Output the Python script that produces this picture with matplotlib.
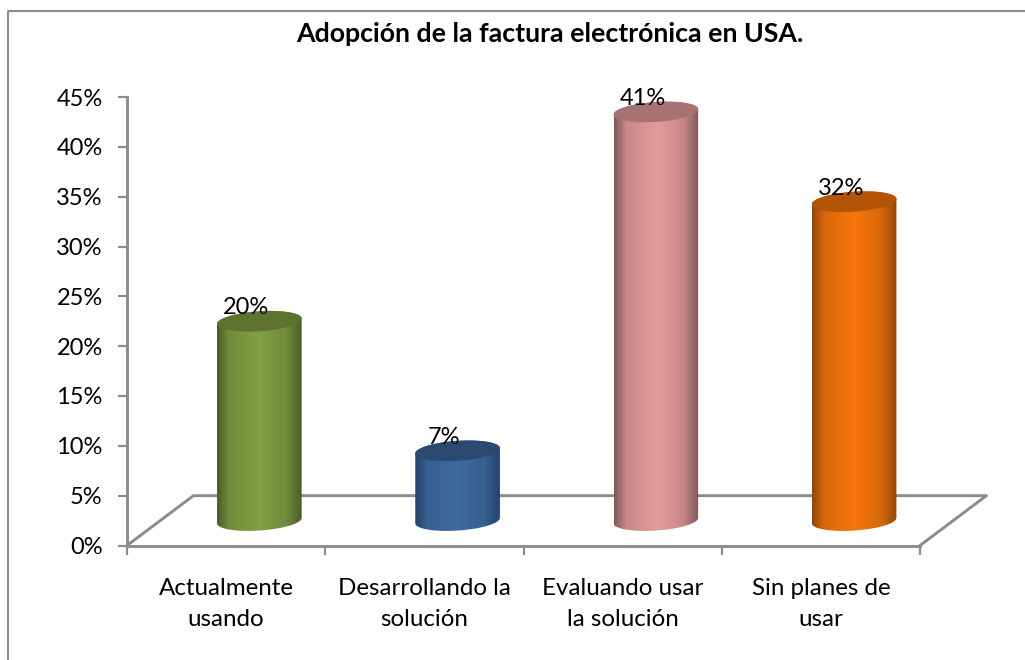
import matplotlib
matplotlib.use('Agg')
import matplotlib.pyplot as plt
import numpy as np
from matplotlib.colors import LinearSegmentedColormap, to_rgb
from matplotlib.patches import Polygon
from matplotlib.lines import Line2D

categories = ['Actualmente\nusando', 'Desarrollando la\nsolución',
              'Evaluando usar\nla solución', 'Sin planes de\nusar']
values = [20, 7, 41, 32]
labels = ['20%', '7%', '41%', '32%']
yticks = [0, 5, 10, 15, 20, 25, 30, 35, 40, 45]

# side, middle and top shades for each cylinder
colors = [('#4b5d25', '#82a044', '#5f722f'),
          ('#26426a', '#3e6ba0', '#2a4a72'),
          ('#7f5a5a', '#e59c9c', '#a87272'),
          ('#914808', '#f6760c', '#b35407')]

W, H = 1025, 660
plt.rcParams['font.family'] = ['Lato', 'DejaVu Sans']

fig = plt.figure(figsize=(W / 100, H / 100), dpi=100)
fig.patch.set_facecolor('white')
ax = fig.add_axes([127 / W, 1 - 545.5 / H, 793 / W, 448.5 / H])
ax.set_xlim(0, 4)
ax.set_ylim(0, 45)
ax.patch.set_alpha(0)

gray = '#8c8c8c'
for s in ['top', 'right']:
    ax.spines[s].set_visible(False)
for s in ['left', 'bottom']:
    ax.spines[s].set_color(gray)
    ax.spines[s].set_linewidth(2.1)

ax.set_yticks(yticks)
ax.set_yticklabels([str(t) + '%' for t in yticks], fontsize=17)
ax.set_xticks(range(5))
ax.set_xticklabels([])
ax.tick_params(axis='both', color=gray, width=1.6, length=6.5)
ax.tick_params(axis='y', pad=11)

# floor of the 3d box
depth_x = 0.335
depth_y = 5
floor_x = [0, depth_x, 4 + depth_x, 4]
floor_y = [0, depth_y, depth_y, 0]
ax.plot(floor_x, floor_y, color=gray, lw=2.1, clip_on=False, zorder=1)

for i, cat in enumerate(categories):
    ax.text(i + 0.5, -3.3, cat, ha='center', va='top', fontsize=17.4,
            linespacing=1.57, clip_on=False)

# cylinders stand half way into the floor depth
half_w = 0.2135
rad_y = 1.0
tilt = 0.27
t = np.linspace(0, 2 * np.pi, 180)
for i, v in enumerate(values):
    cx = i + 0.5 + depth_x / 2
    base = depth_y / 2
    top = v + base
    ex = cx + half_w * np.cos(t)
    skew = tilt * np.cos(t)
    front = t[90:]
    fx = cx + half_w * np.cos(front)
    fy = base + rad_y * np.sin(front) + tilt * np.cos(front)
    back = t[:90]
    bx = cx + half_w * np.cos(back)
    by = top + rad_y * np.sin(back) + tilt * np.cos(back)
    outline = np.column_stack([np.r_[fx, bx], np.r_[fy, by]])

    side, mid, cap = colors[i]
    shoulder = 0.3 * np.array(to_rgb(side)) + 0.7 * np.array(to_rgb(mid))
    cmap = LinearSegmentedColormap.from_list(
        'c', [(0, side), (0.14, shoulder), (0.5, mid), (0.82, shoulder), (1, side)])
    img = ax.imshow(np.linspace(0, 1, 128).reshape(1, -1), cmap=cmap, aspect='auto',
                    extent=[cx - half_w, cx + half_w, base - 2, top + 2], zorder=3)
    clip = Polygon(outline, closed=True, transform=ax.transData)
    img.set_clip_path(clip)
    ax.add_patch(Polygon(np.column_stack([ex, top + rad_y * np.sin(t) + skew]),
                         closed=True, fc=cap, ec='none', zorder=4))
    ax.text(cx - 0.066, top + 1.35, labels[i], ha='center', va='center',
            fontsize=17, zorder=5)

ax.set_xlim(0, 4)
ax.set_ylim(0, 45)

fig.text(550 / W, 1 - 34 / H, 'Adopción de la factura electrónica en USA.',
         ha='center', va='center', fontsize=19.3, fontweight='bold')

# chart frame, only top and left show
fig.add_artist(Line2D([8 / W, 8 / W, 1], [0, 1 - 11 / H, 1 - 11 / H],
                      color=gray, lw=1.5, transform=fig.transFigure))

fig.savefig('out.png', dpi=100)
